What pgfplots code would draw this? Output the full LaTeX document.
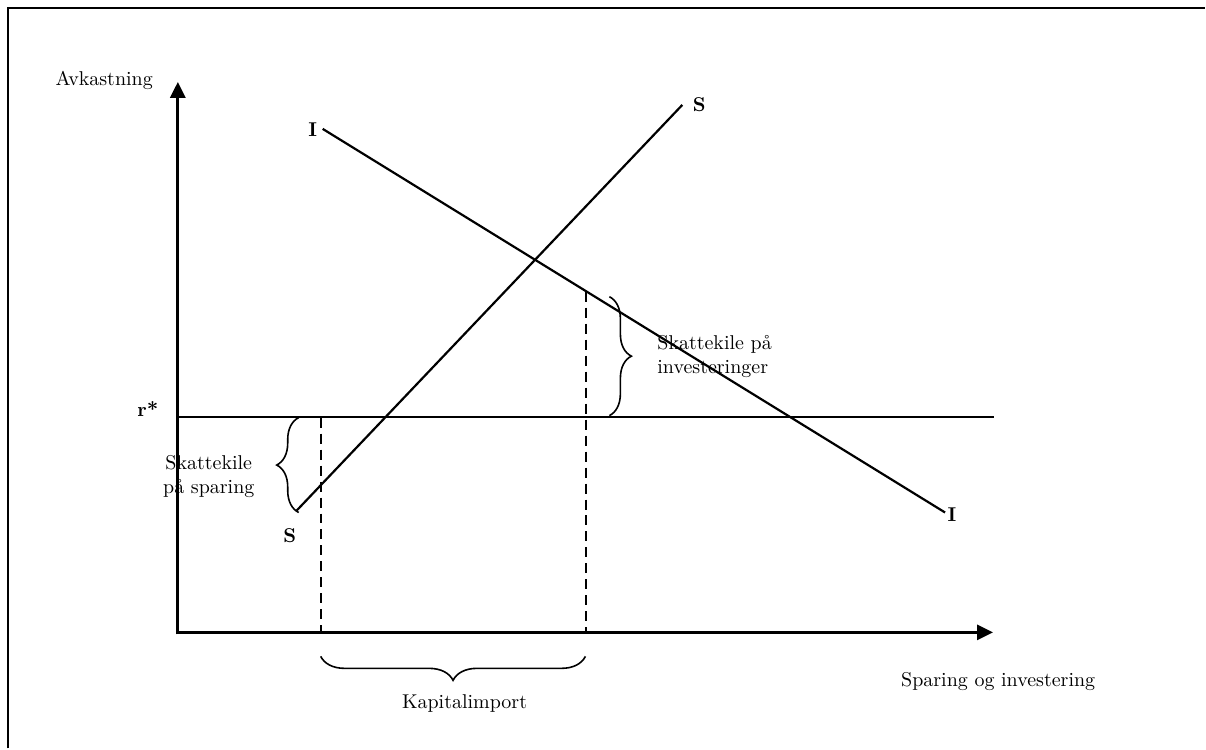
\documentclass[border=0pt]{standalone}
\usepackage{pgfplots}
\pgfplotsset{compat=1.18}
\usetikzlibrary{arrows.meta,decorations.pathreplacing}
\begin{document}
\begin{tikzpicture}
\begin{axis}[
  width=603pt, height=374.5pt, scale only axis,
  xmin=0, xmax=1206, ymin=0, ymax=749, y dir=reverse,
  hide axis, clip=false,
]
% bounding box
\path (axis cs:0,0) rectangle (axis cs:1206,749);
% frame (cut at right and bottom)
\draw[line width=1.2pt] (axis cs:8,749) -- (axis cs:8,8) -- (axis cs:1206,8);
% axes
\addplot[black, line width=1.5pt, -{Triangle[length=8pt,width=7.5pt]}] coordinates {(178,635) (178,82)};
\addplot[black, line width=1.5pt, -{Triangle[length=8pt,width=7.5pt]}] coordinates {(177,633) (994,633)};
% r* line
\addplot[black, line width=1pt] coordinates {(178,417) (995,417)};
% S curve
\addplot[black, line width=1.1pt] coordinates {(297,511) (683,105)};
% I curve
\addplot[black, line width=1.1pt] coordinates {(323,129) (946,513)};
% dashed lines
\addplot[black, line width=1pt, dash pattern=on 5pt off 3pt] coordinates {(321,418) (321,633)};
\addplot[black, line width=1pt, dash pattern=on 5pt off 3pt] coordinates {(586.5,292) (586.5,633)};
% labels
\node[anchor=east] at (axis cs:160,80) {Avkastning};
\node[font=\bfseries] at (axis cs:148,409) {r*};
\node[font=\bfseries] at (axis cs:290,536) {S};
\node[font=\bfseries] at (axis cs:700,105) {S};
\node[font=\bfseries] at (axis cs:313,130) {I};
\node[font=\bfseries] at (axis cs:953,515) {I};
% braces
\draw[line width=0.8pt, decorate, decoration={brace, amplitude=11pt}] (axis cs:299,513) -- (axis cs:299,418);
\node[align=center] at (axis cs:209,477) {Skattekile\\på sparing};
\draw[line width=0.8pt, decorate, decoration={brace, amplitude=11pt}] (axis cs:610,297) -- (axis cs:610,416);
\node[align=left, anchor=west] at (axis cs:651,357) {Skattekile på\\investeringer};
\draw[line width=0.8pt, decorate, decoration={brace, amplitude=12pt}] (axis cs:586,657) -- (axis cs:321,657);
\node at (axis cs:465,704) {Kapitalimport};
\node[anchor=west] at (axis cs:895,682) {Sparing og investering};
\end{axis}
\end{tikzpicture}
\end{document}
